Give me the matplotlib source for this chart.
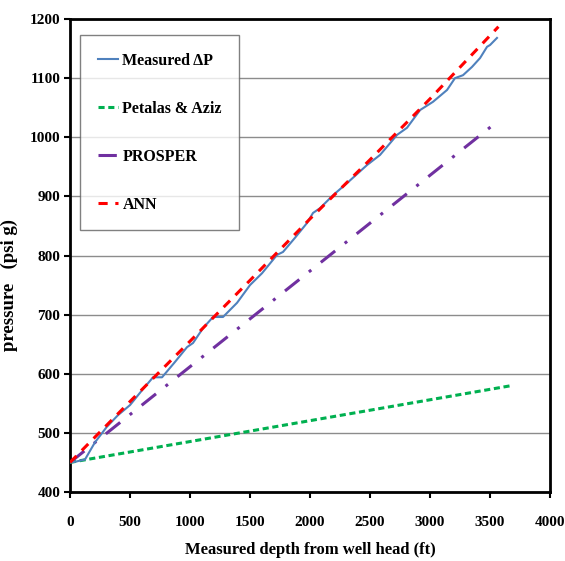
import numpy as np
import matplotlib.pyplot as plt

# measured pressure profile
meas_depth = [0, 40, 125, 208, 306, 400, 500, 600, 692, 767, 875, 975, 1025,
              1108, 1192, 1275, 1392, 1500, 1600, 1725, 1775, 1875, 1975, 2025,
              2083, 2192, 2317, 2475, 2583, 2667, 2725, 2808, 2917, 3025, 3142,
              3208, 3275, 3350, 3417, 3475, 3500, 3558]
meas_p = [450, 451, 455, 484, 510, 530, 547, 572, 594, 594, 620, 645, 652,
          677, 696, 696, 720, 750, 770, 801, 806, 830, 855, 872,
          880, 902, 924, 953, 970, 990, 1004, 1016, 1046, 1060, 1080,
          1100, 1105, 1119, 1134, 1153, 1156, 1168]

ann_depth = [0, 500, 1000, 1500, 2000, 2500, 3000, 3570]
ann_p = [450, 553, 655, 758, 862, 962, 1065, 1187]

prosper_depth = [0, 3570]
prosper_p = [450, 1028]

petalas_depth = [0, 3680]
petalas_p = [450, 580]

serif = ['Liberation Serif', 'DejaVu Serif']

fig = plt.figure(figsize=(5.65, 5.61), dpi=100)
ax = fig.add_axes([0.1239, 0.123, 0.8496, 0.8431])

ax.plot(meas_depth, meas_p, color='#4F81BD', lw=1.5, label='Measured \u0394P', zorder=4)
ax.plot(petalas_depth, petalas_p, color='#00B050', lw=2.2, ls=(0, (2, 1.2)),
        label='Petalas & Aziz', zorder=3)
ax.plot(prosper_depth, prosper_p, color='#7030A0', lw=2.2, ls=(0, (6, 4, 1, 4)),
        label='PROSPER', zorder=3)
ax.plot(ann_depth, ann_p, color='#FF0000', lw=2.2, ls=(0, (3, 2.5)),
        label='ANN', zorder=5)

ax.set_xlim(0, 4000)
ax.set_ylim(400, 1200)
ax.set_xticks(np.arange(0, 4001, 500))
ax.set_yticks(np.arange(400, 1201, 100))
ax.yaxis.grid(True, color='#8c8c8c', lw=1)
ax.set_axisbelow(True)

for s in ax.spines.values():
    s.set_linewidth(2)
ax.tick_params(direction='out', length=4, width=1.5)
ax.tick_params(axis='x', pad=13)
ax.tick_params(axis='y', pad=3)
for lab in ax.get_xticklabels() + ax.get_yticklabels():
    lab.set_family(serif)
    lab.set_weight('bold')
    lab.set_fontsize(11)

ax.set_xlabel('Measured depth from well head (ft)', family=serif, weight='bold',
              fontsize=12)
ax.xaxis.set_label_coords(0.5, -0.105)
ax.set_ylabel('pressure   (psi g)', family=serif, weight='bold', fontsize=13.5)
ax.yaxis.set_label_coords(-0.108, 0.438)

leg = ax.legend(loc='upper left', bbox_to_anchor=(0.021, 0.966),
                prop={'family': serif, 'weight': 'bold', 'size': 11.5},
                frameon=True, fancybox=False, edgecolor='#606060',
                labelspacing=2.0, handlelength=1.25, handletextpad=0.3,
                borderpad=1.1, borderaxespad=0)
leg.get_frame().set_linewidth(1)

fig.savefig('out.png', dpi=100)
